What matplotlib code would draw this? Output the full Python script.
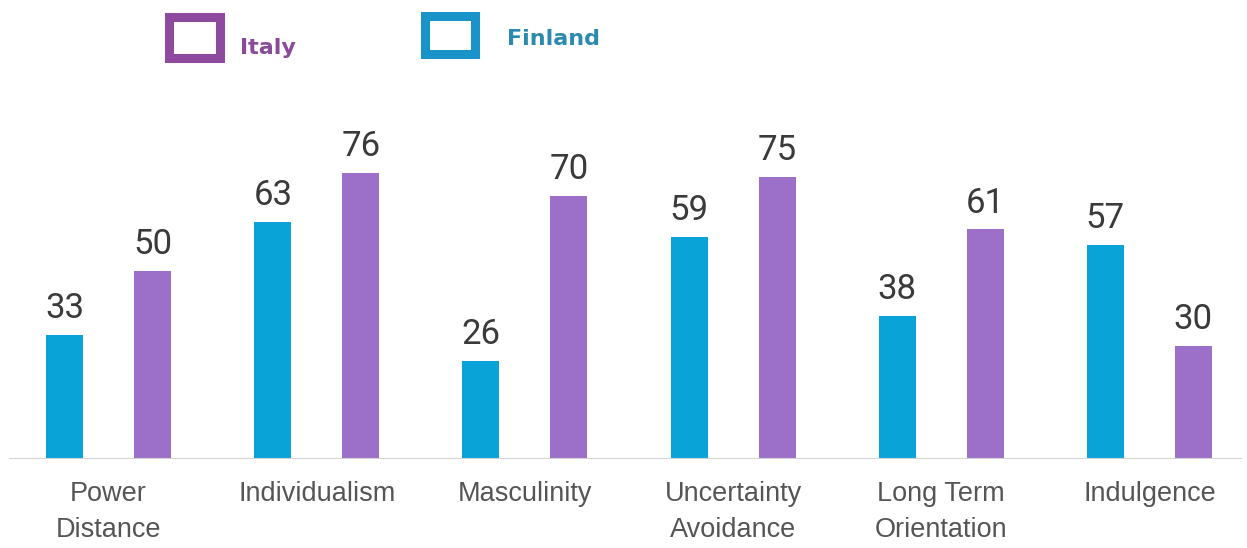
import matplotlib.pyplot as plt
import numpy as np
from matplotlib.patches import Rectangle

# Hofstede dimensions, Finland vs Italy
categories = ['Power\nDistance', 'Individualism', 'Masculinity',
              'Uncertainty\nAvoidance', 'Long Term\nOrientation', 'Indulgence']
finland = [33, 63, 26, 59, 38, 57]
italy = [50, 76, 70, 75, 61, 30]

FIN_COLOR = '#0aa3d8'
ITA_COLOR = '#9c6fc8'

W, H = 1247, 548
fig = plt.figure(figsize=(W / 100, H / 100), dpi=100)
ax = fig.add_axes([0, (H - 459) / H, 1, 459 / H])

x = np.arange(len(categories))
off = 0.2115
bw = 0.178
ax.bar(x - off, finland, bw, color=FIN_COLOR)
ax.bar(x + off, italy, bw, color=ITA_COLOR)

for xi, f, i in zip(x, finland, italy):
    ax.text(xi - off, f + 2.6, str(f), ha='center', va='bottom',
            fontsize=25, family='Roboto', color='#3a3a3a')
    ax.text(xi + off, i + 2.6, str(i), ha='center', va='bottom',
            fontsize=25, family='Roboto', color='#3a3a3a')

ax.set_xlim(-0.522, 5.469)
ax.set_ylim(0, 122)
ax.axhline(0, xmin=0.008, xmax=0.995, color='#d4d4d4', lw=1.5)
for s in ax.spines.values():
    s.set_visible(False)
ax.set_yticks([])
ax.set_xticks(x)
ax.set_xticklabels(categories, family='Liberation Sans', fontsize=19.5,
                   color='#555555', linespacing=1.5)
ax.tick_params(axis='x', length=0, pad=16)

# legend drawn by hand: hollow squares with labels
def px(xp, yp):
    return xp / W, 1 - yp / H

for (x0, y0, x1, y1), col, lab, tx, ty, tcol in [
        ((169, 17, 220, 58), '#8e4a9e', 'Italy', 240, 48, '#8a4a9a'),
        ((425, 16, 475, 54), '#1a94c8', 'Finland', 507, 39, '#2a8ab0')]:
    fx0, fy1 = px(x0, y0)
    fx1, fy0 = px(x1, y1)
    fig.add_artist(Rectangle((fx0, fy0), fx1 - fx0, fy1 - fy0,
                             transform=fig.transFigure, fill=False,
                             edgecolor=col, lw=6.5))
    tx_, ty_ = px(tx, ty)
    fig.text(tx_, ty_, lab, ha='left', va='center', fontsize=16,
             fontweight='bold', color=tcol, family='DejaVu Sans')

fig.savefig('out.png', dpi=100, facecolor='white')
